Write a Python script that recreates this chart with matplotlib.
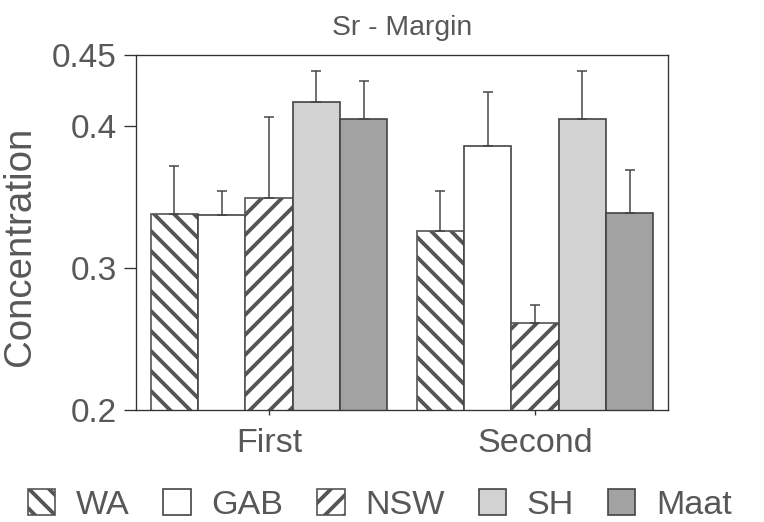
import matplotlib
matplotlib.use('Agg')
import matplotlib.pyplot as plt
import numpy as np

plt.rcParams['font.family'] = ['Liberation Sans', 'DejaVu Sans']
plt.rcParams['hatch.linewidth'] = 2.3

# Sr concentration at the margin, by region and sample
groups = ['First', 'Second']
regions = ['WA', 'GAB', 'NSW', 'SH', 'Maat']
means = {
    'WA':   [0.338, 0.326],
    'GAB':  [0.337, 0.386],
    'NSW':  [0.349, 0.261],
    'SH':   [0.417, 0.405],
    'Maat': [0.405, 0.339],
}
upper_err = {
    'WA':   [0.034, 0.028],
    'GAB':  [0.017, 0.038],
    'NSW':  [0.057, 0.013],
    'SH':   [0.022, 0.034],
    'Maat': [0.027, 0.030],
}
yticks = [0.2, 0.3, 0.4, 0.45]
ytick_labels = ['0.2', '0.3', '0.4', '0.45']

styles = {
    'WA':   dict(facecolor='white', edgecolor='#555555', hatch='\\\\'),
    'GAB':  dict(facecolor='white', edgecolor='#444444', hatch=None),
    'NSW':  dict(facecolor='white', edgecolor='#555555', hatch='//'),
    'SH':   dict(facecolor='#d2d2d2', edgecolor='#444444', hatch=None),
    'Maat': dict(facecolor='#a2a2a2', edgecolor='#444444', hatch=None),
}

txt = '#585858'
dpi = 120
fig = plt.figure(figsize=(764 / dpi, 522 / dpi), dpi=dpi)
ax = fig.add_axes([136 / 764, 1 - 410 / 522, 532 / 764, 355 / 522])

x = np.arange(len(groups))
w = 0.178
for i, r in enumerate(regions):
    pos = x + (i - 2) * w
    ax.bar(pos, means[r], width=w, linewidth=1.0, label=r, **styles[r])
    ax.errorbar(pos, means[r], yerr=[np.zeros(len(groups)), upper_err[r]],
                fmt='none', ecolor='#444444', elinewidth=0.9, capsize=2.8,
                capthick=0.9)

ax.set_xlim(-0.5, 1.5)
ax.set_ylim(0.2, 0.45)
ax.set_yticks(yticks)
ax.set_yticklabels(ytick_labels)
ax.set_xticks(x)
ax.set_xticklabels(groups)

for s in ax.spines.values():
    s.set_color('#333333')
    s.set_linewidth(0.8)
ax.tick_params(axis='y', length=7, width=0.8, color='#333333', pad=4.5,
               labelsize=20, labelcolor=txt)
ax.tick_params(axis='x', length=3, width=0.8, color='#333333', pad=8,
               labelsize=20.5, labelcolor=txt)

ax.set_ylabel('Concentration', fontsize=23, color=txt)
ax.yaxis.set_label_coords(-0.185, 0.46)
ax.set_title('Sr - Margin', fontsize=17, color=txt, pad=12)

leg = fig.legend(loc='center', bbox_to_anchor=(0.497, 0.032), ncol=5,
                 frameon=False, fontsize=20.5, handlelength=0.8,
                 handleheight=0.8, handletextpad=0.6, columnspacing=1.0,
                 labelcolor=txt)

fig.savefig('out.png', dpi=dpi)
